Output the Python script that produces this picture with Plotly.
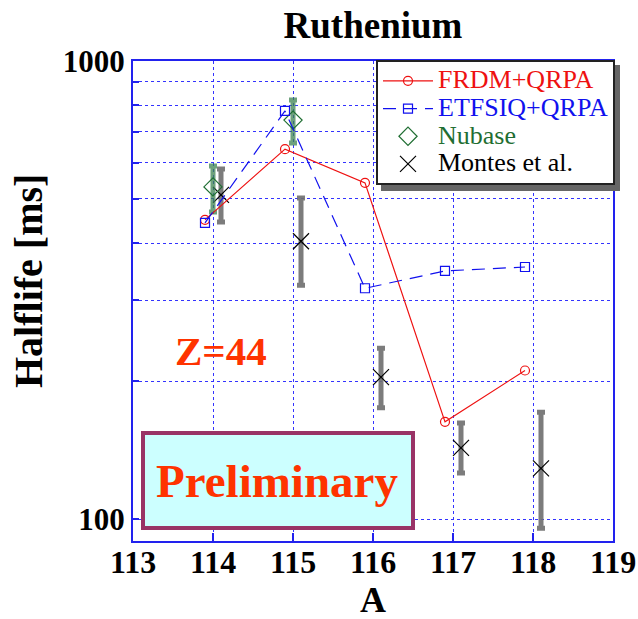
import plotly.graph_objects as go

# Data
A_frdm = [113.9, 114.9, 115.9, 116.9, 117.9]
T_frdm = [450, 642, 542, 163, 211]

A_etf = [113.9, 114.9, 115.9, 116.9, 117.9]
T_etf = [443, 778, 319, 348, 355]

A_nub = [114.0, 115.0]
T_nub = [531, 743]
T_nub_hi = [590, 822]
T_nub_lo = [468, 662]

A_mon = [114.1, 115.1, 116.1, 117.1, 118.1]
T_mon = [510, 404, 204, 143, 129]
T_mon_hi = [581, 502, 236, 162, 171]
T_mon_lo = [445, 324, 175, 126, 95.5]

x_ticks = [113, 114, 115, 116, 117, 118, 119]
y_ticks = [100, 200, 300, 400, 500, 600, 700, 800, 900, 1000]
y_text = ["100", "", "", "", "", "", "", "", "", "1000"]

SERIF = "Liberation Serif"
RED = "#ee1111"
BLUE = "#1111ee"
GREEN = "#1f6e32"
LEG_FS = 26

def leg(name, color):
    return f'<span style="color:{color};font-size:{LEG_FS}px">{name}</span>'

fig = go.Figure()

# Montes error bars + markers
fig.add_trace(go.Scatter(
    x=A_mon, y=T_mon, mode="markers", name="Montes et al.",
    marker=dict(symbol="x-thin-open", size=16, color="black", line=dict(width=1.2, color="black")),
    error_y=dict(type="data", symmetric=False,
                 array=[h - v for h, v in zip(T_mon_hi, T_mon)],
                 arrayminus=[v - l for v, l in zip(T_mon, T_mon_lo)],
                 color="rgba(110,110,110,0.9)", thickness=5, width=4),
    showlegend=False,
))

# Nubase
fig.add_trace(go.Scatter(
    x=A_nub, y=T_nub, mode="markers", name="Nubase",
    marker=dict(symbol="diamond-open", size=14, color=GREEN, line=dict(width=1.2, color=GREEN)),
    error_y=dict(type="data", symmetric=False,
                 array=[h - v for h, v in zip(T_nub_hi, T_nub)],
                 arrayminus=[v - l for v, l in zip(T_nub, T_nub_lo)],
                 color="rgba(60,130,80,0.75)", thickness=5, width=4),
    showlegend=False,
))

# FRDM
fig.add_trace(go.Scatter(
    x=A_frdm, y=T_frdm, mode="lines+markers",
    name=leg("FRDM+QRPA", RED),
    line=dict(color=RED, width=1.2),
    marker=dict(symbol="circle-open", size=9, color=RED, line=dict(width=1.2)),
))

# ETFSIQ
fig.add_trace(go.Scatter(
    x=A_etf, y=T_etf, mode="lines+markers",
    name=leg("ETFSIQ+QRPA", BLUE),
    line=dict(color=BLUE, width=1.2, dash="13px,8px"),
    marker=dict(symbol="square-open", size=9, color=BLUE, line=dict(width=1.2)),
))

# legend-only entries for Nubase and Montes
fig.add_trace(go.Scatter(
    x=[None], y=[None], mode="markers",
    name=leg("Nubase", GREEN),
    marker=dict(symbol="diamond-open", size=14, color=GREEN, line=dict(width=1.2, color=GREEN)),
))
fig.add_trace(go.Scatter(
    x=[None], y=[None], mode="markers", name=leg("Montes et al.", "black"),
    marker=dict(symbol="x-thin-open", size=16, color="black", line=dict(width=1.2, color="black")),
))

L, R, T, B = 133, 25, 61, 78
W, H = 638, 619
pw, ph = W - L - R, H - T - B

def px_x(x):
    return (x - L) / pw

def px_y(y):
    return (T + ph - y) / ph

# legend shadow (legend box approx 376..615 x 60..186)
lx0, lx1, ly0, ly1 = 376, 615, 60, 186
fig.add_shape(type="rect", xref="paper", yref="paper",
              x0=px_x(lx0 + 5), x1=px_x(lx1 + 5), y0=px_y(ly1 + 5), y1=px_y(ly0 + 5),
              fillcolor="#666666", line=dict(width=0), layer="above")

# Preliminary box
fig.add_shape(type="rect", xref="paper", yref="paper",
              x0=px_x(143), x1=px_x(413), y0=px_y(528), y1=px_y(433),
              fillcolor="#ccffff", line=dict(color="#993366", width=4), layer="above")
fig.add_annotation(xref="paper", yref="paper", x=px_x(277), y=px_y(481),
                   xanchor="center", yanchor="middle",
                   text="<b>Preliminary</b>", showarrow=False,
                   font=dict(family=SERIF, size=47, color="#ff3300"))
fig.add_annotation(xref="paper", yref="paper", x=px_x(221), y=px_y(351),
                   xanchor="center", yanchor="middle",
                   text="<b>Z=44</b>", showarrow=False,
                   font=dict(family=SERIF, size=41, color="#ff3300"))

# axis titles
fig.add_annotation(xref="paper", yref="paper", x=0.5, y=px_y(600),
                   xanchor="center", yanchor="middle",
                   text="<b>A</b>", showarrow=False,
                   font=dict(family=SERIF, size=36, color="black"))
fig.add_annotation(xref="paper", yref="paper", x=px_x(28), y=px_y(281),
                   xanchor="center", yanchor="middle", textangle=-90,
                   text="<b>Halflife [ms]</b>", showarrow=False,
                   font=dict(family=SERIF, size=40, color="black"))

fig.update_layout(
    width=W, height=H,
    margin=dict(l=L, r=R, t=T, b=B, autoexpand=False),
    paper_bgcolor="white", plot_bgcolor="white",
    title=dict(text="<b>Ruthenium</b>", xref="paper", x=0.5, xanchor="center",
               yref="container", y=1 - 25 / H, yanchor="middle",
               font=dict(family=SERIF, size=37, color="black")),
    font=dict(family=SERIF, color="black"),
    legend=dict(x=px_x(lx1), xanchor="right", y=px_y(ly0), yanchor="top",
                bgcolor="white", bordercolor="#222222", borderwidth=2,
                font=dict(family=SERIF, size=19, color="black"),
                itemwidth=50, tracegroupgap=0),
    xaxis=dict(range=[113, 119], tickvals=x_ticks, ticktext=[f"<b>{v}</b>" for v in x_ticks],
               automargin=False, ticklabelstandoff=-8,
               showgrid=True, gridcolor="#3333ff", griddash="dot", gridwidth=1,
               showline=True, linecolor="#2222ee", linewidth=2, mirror=True,
               ticks="inside", ticklen=8, tickcolor="#2222ee", tickwidth=1.5,
               zeroline=False,
               tickfont=dict(family=SERIF, size=32, color="black")),
    yaxis=dict(type="log", range=[1.952, 3.0], tickvals=y_ticks,
               ticktext=[f"<b>{t}</b>" if t else "" for t in y_text],
               automargin=False,
               showgrid=True, gridcolor="#3333ff", griddash="dot", gridwidth=1,
               showline=True, linecolor="#2222ee", linewidth=2, mirror=True,
               ticks="inside", ticklen=6, tickcolor="#2222ee", tickwidth=1.5,
               zeroline=False,
               tickfont=dict(family=SERIF, size=31, color="black")),
)

fig.write_html("out.html")
